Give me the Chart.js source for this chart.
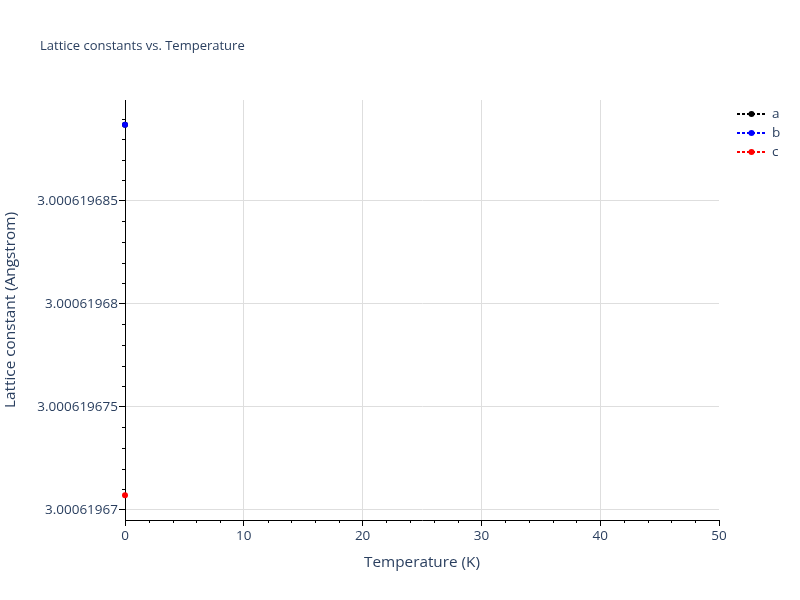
<!DOCTYPE html>
<html lang="en">
<head>
  <meta charset="UTF-8">
  <title>Lattice constants vs. Temperature</title>
  <script src="https://cdn.jsdelivr.net/npm/chart.js@4.4.0/dist/chart.umd.min.js"></script>
  <style>
    body { margin: 0; background: #fff; }
    #wrap { width: 800px; height: 600px; }
  </style>
</head>
<body>
  <div id="wrap"><canvas id="mychart" width="800" height="600"></canvas></div>

  <script type="text/javascript">
    // data
    const seriesNames = ['a', 'b', 'c'];
    const seriesColors = ['#000000', '#0000ff', '#ff0000'];
    const temperatures = [0];
    const aValues = [3.0006196887];
    const bValues = [3.0006196887];
    const cValues = [3.0006196707];

    const xTicks = [0, 10, 20, 30, 40, 50];
    const yTicks = [3.00061967, 3.000619675, 3.00061968, 3.000619685];
    const yTickLabels = ['3.00061967', '3.000619675', '3.00061968', '3.000619685'];

    const titleText = 'Lattice constants vs. Temperature';
    const xTitle = 'Temperature (K)';
    const yTitle = 'Lattice constant (Angstrom)';

    const textColor = '#2a3f5f';
    const gridColor = '#dedede';
    const fontFamily = '"Open Sans", verdana, arial, sans-serif';

    function points(values) {
      return temperatures.map((t, i) => ({ x: t, y: values[i] }));
    }

    const allValues = [aValues, bValues, cValues];
    const datasets = seriesNames.map((name, i) => ({
      label: name,
      data: points(allValues[i]),
      borderColor: seriesColors[i],
      backgroundColor: seriesColors[i],
      borderWidth: 2,
      borderDash: [3, 2],
      showLine: true,
      pointRadius: 3,
      pointHoverRadius: 3,
      pointBorderWidth: 0,
      clip: false,
      order: 3 - i
    }));

    // minor ticks, title and legend drawn like plotly does
    const extras = {
      id: 'extras',
      afterDraw(chart) {
        const ctx = chart.ctx;
        const xs = chart.scales.x, ys = chart.scales.y;
        const area = chart.chartArea;
        ctx.save();
        ctx.strokeStyle = '#000';
        ctx.lineWidth = 1;
        ctx.beginPath();
        for (let v = 2; v < 50; v += 2) {
          if (v % 10 === 0) continue;
          const px = Math.round(xs.getPixelForValue(v)) + 0.5;
          ctx.moveTo(px, area.bottom);
          ctx.lineTo(px, area.bottom + 3);
        }
        for (let k = 1; k <= 19; k++) {
          if (k % 5 === 0) continue;
          const v = yTicks[0] + k * 1e-9;
          const py = Math.round(ys.getPixelForValue(v)) + 0.5;
          if (py < area.top) continue;
          ctx.moveTo(area.left, py);
          ctx.lineTo(area.left - 3, py);
        }
        ctx.stroke();

        ctx.fillStyle = textColor;
        ctx.font = '13px ' + fontFamily;
        ctx.textBaseline = 'middle';
        ctx.textAlign = 'left';
        ctx.fillText(titleText, 40, 46);

        ctx.font = '13.5px ' + fontFamily;
        chart.data.datasets.forEach((ds, i) => {
          const y = 114 + i * 19;
          ctx.strokeStyle = ds.borderColor;
          ctx.lineWidth = 2;
          ctx.setLineDash([3, 2]);
          ctx.beginPath();
          ctx.moveTo(737, y);
          ctx.lineTo(766, y);
          ctx.stroke();
          ctx.setLineDash([]);
          ctx.fillStyle = ds.backgroundColor;
          ctx.beginPath();
          ctx.arc(751.5, y, 3, 0, Math.PI * 2);
          ctx.fill();
          ctx.fillStyle = textColor;
          ctx.fillText(ds.label, 772, y);
        });
        ctx.restore();
      }
    };

    const config = {
      type: 'scatter',
      data: { datasets: datasets },
      options: {
        responsive: false,
        animation: false,
        devicePixelRatio: 1,
        layout: { padding: { top: 100, right: 81, bottom: 0, left: 0 } },
        plugins: {
          legend: { display: false },
          title: { display: false },
          tooltip: { enabled: false }
        },
        scales: {
          x: {
            type: 'linear',
            min: 0,
            max: 50,
            afterBuildTicks: (scale) => { scale.ticks = xTicks.map(v => ({ value: v })); },
            afterFit: (scale) => { scale.height = 80; },
            grid: {
              color: (c) => (c.tick && c.tick.value === 50) ? 'rgba(0,0,0,0)' : gridColor,
              tickColor: '#000',
              tickLength: 6,
              drawTicks: true
            },
            border: { display: true, color: '#000', width: 1 },
            ticks: {
              color: textColor,
              font: { family: fontFamily, size: 13.5 },
              padding: 2,
              maxRotation: 0
            },
            title: {
              display: true,
              text: xTitle,
              color: textColor,
              font: { family: fontFamily, size: 15.3 },
              padding: { top: 0, bottom: 28 }
            }
          },
          y: {
            type: 'linear',
            min: 3.0006196695,
            max: 3.0006196899,
            afterBuildTicks: (scale) => { scale.ticks = yTicks.map(v => ({ value: v })); },
            afterFit: (scale) => { scale.width = 125; },
            grid: {
              color: gridColor,
              tickColor: '#000',
              tickLength: 6,
              drawTicks: true
            },
            border: { display: true, color: '#000', width: 1 },
            ticks: {
              color: textColor,
              font: { family: fontFamily, size: 13.5 },
              padding: 1,
              callback: (value, index) => yTickLabels[index]
            },
            title: {
              display: true,
              text: yTitle,
              color: textColor,
              font: { family: fontFamily, size: 15.3 },
              padding: { top: 1, bottom: 0 }
            }
          }
        }
      },
      plugins: [extras]
    };

    new Chart(document.getElementById('mychart'), config);
  </script>
</body>
</html>
